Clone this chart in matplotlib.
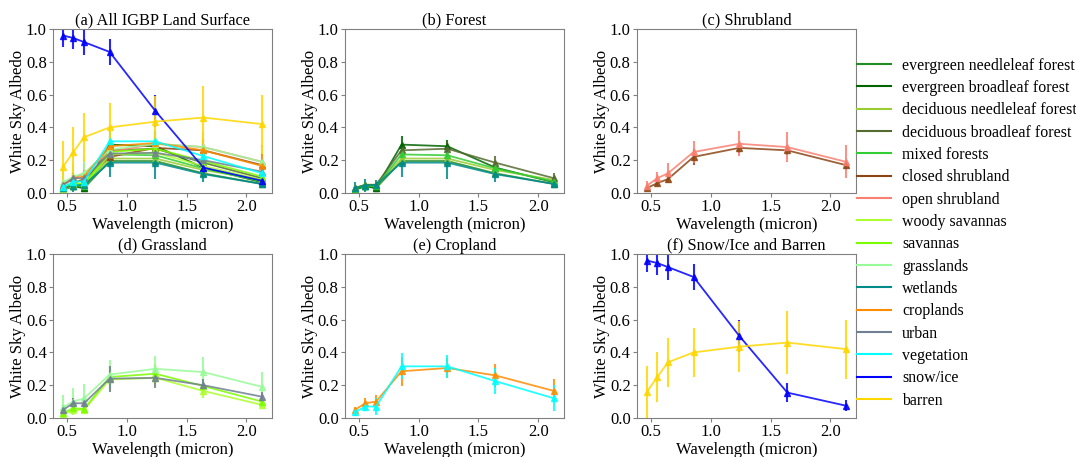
import numpy as np
import matplotlib
matplotlib.use("Agg")
import matplotlib.pyplot as plt
from matplotlib.lines import Line2D

plt.rcParams['font.family'] = ['Liberation Serif', 'DejaVu Serif']
plt.rcParams['font.size'] = 11.5

# MODIS band centres (micron)
wavelength = [0.469, 0.555, 0.645, 0.858, 1.24, 1.64, 2.13]

# white sky albedo (mean, std) per IGBP class
enf = [0.02, 0.04, 0.03, 0.195, 0.195, 0.12, 0.055]
enf_sd = [0.01, 0.01, 0.01, 0.03, 0.03, 0.02, 0.01]
ebf = [0.02, 0.045, 0.03, 0.295, 0.285, 0.155, 0.065]
ebf_sd = [0.01, 0.01, 0.01, 0.05, 0.04, 0.02, 0.01]
dnf = [0.03, 0.05, 0.05, 0.21, 0.21, 0.14, 0.08]
dnf_sd = [0.01, 0.01, 0.01, 0.03, 0.03, 0.02, 0.01]
dbf = [0.03, 0.05, 0.05, 0.26, 0.27, 0.185, 0.09]
dbf_sd = [0.01, 0.01, 0.01, 0.05, 0.04, 0.04, 0.03]
mixed = [0.025, 0.045, 0.04, 0.235, 0.23, 0.15, 0.07]
mixed_sd = [0.01, 0.01, 0.01, 0.03, 0.03, 0.02, 0.01]
closed_shrub = [0.03, 0.06, 0.085, 0.22, 0.275, 0.26, 0.17]
closed_shrub_sd = [0.01, 0.015, 0.02, 0.05, 0.03, 0.03, 0.02]
open_shrub = [0.045, 0.09, 0.12, 0.25, 0.30, 0.28, 0.19]
open_shrub_sd = [0.03, 0.035, 0.06, 0.07, 0.075, 0.09, 0.1]
woody_sav = [0.02, 0.05, 0.05, 0.235, 0.245, 0.165, 0.08]
woody_sav_sd = [0.02, 0.02, 0.02, 0.07, 0.05, 0.04, 0.02]
savannas = [0.03, 0.06, 0.055, 0.25, 0.27, 0.195, 0.10]
savannas_sd = [0.02, 0.02, 0.02, 0.07, 0.06, 0.04, 0.02]
grasslands = [0.065, 0.10, 0.12, 0.265, 0.30, 0.28, 0.19]
grasslands_sd = [0.075, 0.08, 0.09, 0.09, 0.08, 0.09, 0.09]
wetlands = [0.03, 0.045, 0.05, 0.185, 0.185, 0.115, 0.055]
wetlands_sd = [0.04, 0.04, 0.03, 0.09, 0.10, 0.05, 0.02]
croplands = [0.05, 0.09, 0.10, 0.285, 0.305, 0.26, 0.165]
croplands_sd = [0.02, 0.03, 0.04, 0.09, 0.06, 0.07, 0.07]
urban = [0.05, 0.09, 0.09, 0.24, 0.245, 0.20, 0.13]
urban_sd = [0.03, 0.03, 0.04, 0.08, 0.06, 0.04, 0.03]
vegetation = [0.035, 0.07, 0.07, 0.315, 0.315, 0.225, 0.12]
vegetation_sd = [0.02, 0.03, 0.05, 0.08, 0.07, 0.08, 0.08]
snow = [0.96, 0.945, 0.92, 0.86, 0.50, 0.155, 0.075]
snow_sd = [0.07, 0.07, 0.08, 0.08, 0.10, 0.06, 0.035]
barren = [0.16, 0.25, 0.34, 0.40, 0.435, 0.46, 0.42]
barren_sd = [0.16, 0.15, 0.15, 0.15, 0.155, 0.19, 0.18]

classes = [
    ('evergreen needleleaf forest', 'forestgreen', enf, enf_sd),
    ('evergreen broadleaf forest', 'darkgreen', ebf, ebf_sd),
    ('deciduous needleleaf forest', 'yellowgreen', dnf, dnf_sd),
    ('deciduous broadleaf forest', 'darkolivegreen', dbf, dbf_sd),
    ('mixed forests', 'limegreen', mixed, mixed_sd),
    ('closed shrubland', 'saddlebrown', closed_shrub, closed_shrub_sd),
    ('open shrubland', 'salmon', open_shrub, open_shrub_sd),
    ('woody savannas', 'greenyellow', woody_sav, woody_sav_sd),
    ('savannas', 'lawngreen', savannas, savannas_sd),
    ('grasslands', 'palegreen', grasslands, grasslands_sd),
    ('wetlands', 'darkcyan', wetlands, wetlands_sd),
    ('croplands', 'darkorange', croplands, croplands_sd),
    ('urban', 'slategray', urban, urban_sd),
    ('vegetation', 'cyan', vegetation, vegetation_sd),
    ('snow/ice', 'blue', snow, snow_sd),
    ('barren', 'gold', barren, barren_sd),
]

panels = [
    ('(a) All IGBP Land Surface', list(range(16))),
    ('(b) Forest', [0, 1, 2, 3, 4, 10]),
    ('(c) Shrubland', [5, 6]),
    ('(d) Grassland', [7, 8, 9, 12]),
    ('(e) Cropland', [11, 13]),
    ('(f) Snow/Ice and Barren', [14, 15]),
]

fig = plt.figure(figsize=(10.76, 4.57), dpi=100)
lefts = [0.0493, 0.3206, 0.592]
bottoms = [0.5777, 0.0853]
w, h = 0.2035, 0.3589

for k, (title, idx) in enumerate(panels):
    ax = fig.add_axes([lefts[k % 3], bottoms[k // 3], w, h])
    for i in idx:
        name, col, y, sd = classes[i]
        ax.errorbar(wavelength, y, yerr=sd, color=col, marker='^', markersize=4.5,
                    linewidth=1.3, elinewidth=1.5, ecolor=col, alpha=0.85)
    ax.set_ylim(0, 1.0)
    ax.set_xticks([0.5, 1.0, 1.5, 2.0])
    ax.set_yticks([0.0, 0.2, 0.4, 0.6, 0.8, 1.0])
    ax.set_title(title, fontsize=11.8, pad=3)
    ax.set_xlabel('Wavelength (micron)', fontsize=12, labelpad=1)
    ax.set_ylabel('White Sky Albedo', fontsize=12, labelpad=0)
    for s in ax.spines.values():
        s.set_color('gray')
    ax.tick_params(labelsize=12, color='gray', pad=1.5, length=3)

handles = [Line2D([0], [0], color=c[1], lw=1.5) for c in classes]
fig.legend(handles, [c[0] for c in classes], loc='upper left',
           bbox_to_anchor=(0.7835, 0.905), frameon=False, fontsize=11.4,
           handlelength=2.15, handletextpad=0.68, labelspacing=0.4)

fig.savefig('out.png', dpi=100)
